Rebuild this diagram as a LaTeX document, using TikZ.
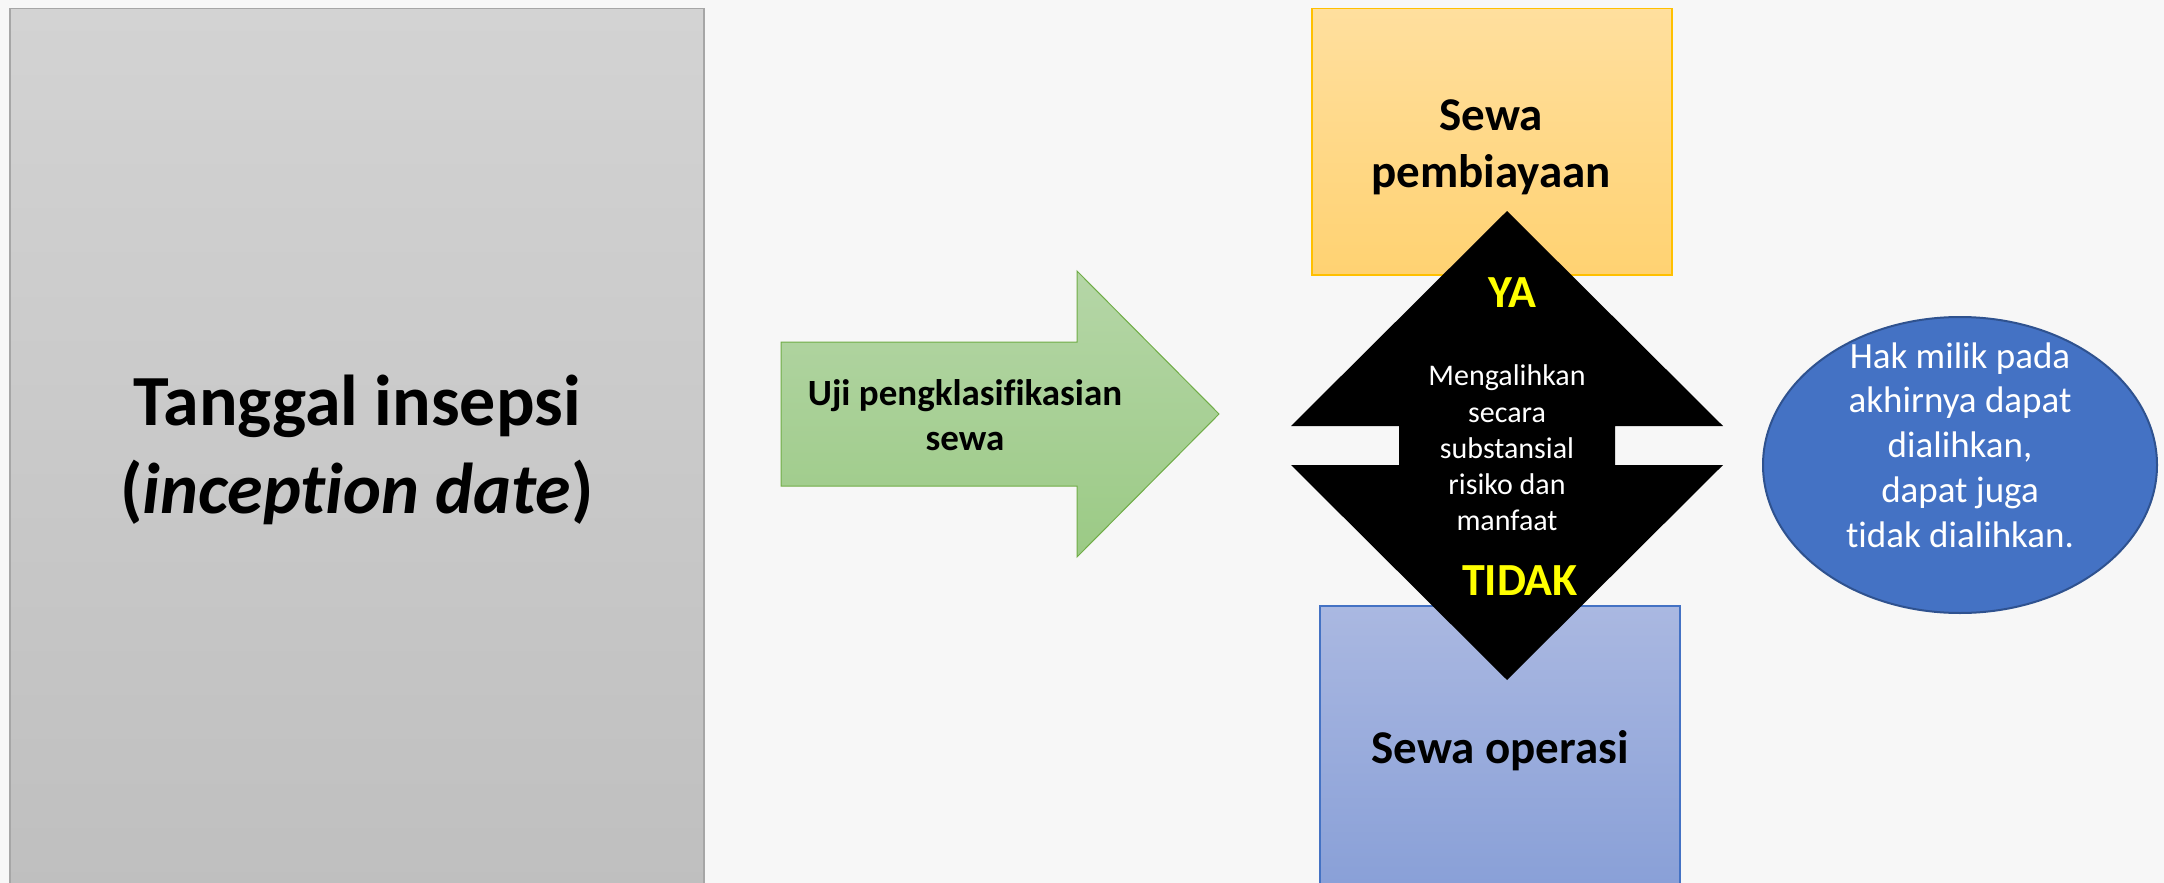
\documentclass[tikz,border=0pt]{standalone}
\usepackage{fontspec}
\setmainfont{Carlito}[Ligatures=NoCommon]
\definecolor{bgc}{HTML}{F7F7F7}
\definecolor{grayt}{HTML}{D3D3D3}
\definecolor{grayb}{HTML}{BFBFBF}
\definecolor{grayline}{HTML}{A6A6A6}
\definecolor{oranget}{HTML}{FFDF9E}
\definecolor{orangeb}{HTML}{FFD272}
\definecolor{orangeline}{HTML}{FFC000}
\definecolor{bluet}{HTML}{AAB8E1}
\definecolor{blueb}{HTML}{889FD7}
\definecolor{blueline}{HTML}{4472C4}
\definecolor{greent}{HTML}{B5D6A7}
\definecolor{greenb}{HTML}{9BCA85}
\definecolor{greenline}{HTML}{70AD47}
\definecolor{ellfill}{HTML}{4472C4}
\definecolor{ellline}{HTML}{2F528F}
\definecolor{yes}{HTML}{FFFF00}
\begin{document}
\begin{tikzpicture}[x=1pt,y=-1pt,
  lbl/.style={inner sep=0pt, align=center},
  boxshape/.style={inner sep=0pt, anchor=north west},
]
\useasboundingbox (0,0) rectangle (2164,883);
\clip (0,0) rectangle (2164,883);
\fill[bgc] (0,0) rectangle (2164,883);

% Left gray box
\node[boxshape, draw=grayline, line width=1.5pt, top color=grayt, bottom color=grayb,
      minimum width=694pt, minimum height=885pt] (incepbox) at (9,8) {};
\node[lbl, font=\fontsize{72}{88}\selectfont\bfseries] (incep) at (357,450)
  {Tanggal insepsi\\(\textit{inception date})};

% Green arrow
\coordinate (g1) at (781,342);
\coordinate (g2) at (1077,342);
\coordinate (g3) at (1077,271);
\coordinate (g4) at (1219,414);
\coordinate (g5) at (1077,557);
\coordinate (g6) at (1077,486);
\coordinate (g7) at (781,486);
\path[draw=greenline, line width=1pt, top color=greent, bottom color=greenb]
  (g1) -- (g2) -- (g3) -- (g4) -- (g5) -- (g6) -- (g7) -- cycle;
\node[lbl, font=\fontsize{37}{45}\selectfont\bfseries] (uji) at (965,415)
  {Uji pengklasifikasian\\sewa};

% Orange box
\node[boxshape, draw=orangeline, line width=1.5pt, top color=oranget, bottom color=orangeb,
      minimum width=360pt, minimum height=266pt] (finbox) at (1311,8) {};
% Blue box
\node[boxshape, draw=blueline, line width=1.5pt, top color=bluet, bottom color=blueb,
      minimum width=360pt, minimum height=290pt] (opbox) at (1319,605) {};

% Black up-down arrow
\coordinate (b1) at (1507,211);
\coordinate (b2) at (1723,426);
\coordinate (b3) at (1615,426);
\coordinate (b4) at (1615,465);
\coordinate (b5) at (1723,465);
\coordinate (b6) at (1507,680);
\coordinate (b7) at (1291,465);
\coordinate (b8) at (1399,465);
\coordinate (b9) at (1399,426);
\coordinate (b10) at (1291,426);
\fill[black] (b1) -- (b2) -- (b3) -- (b4) -- (b5) -- (b6) -- (b7) -- (b8) -- (b9) -- (b10) -- cycle;

\node[lbl, font=\fontsize{47}{57}\selectfont\bfseries] (fin) at (1491,147)
  {Sewa\\pembiayaan};
\node[lbl, anchor=base, font=\fontsize{47}{57}\selectfont\bfseries] (op) at (1500,763)
  {Sewa operasi};

\node[lbl, anchor=base, text=yes, font=\fontsize{46}{55}\selectfont\bfseries] (ya) at (1512,307) {YA};
\node[lbl, anchor=base, text=yes, font=\fontsize{46}{55}\selectfont\bfseries] (tidak) at (1520,595) {TIDAK};
\node[lbl, text=white, font=\fontsize{30}{36.3}\selectfont] (crit) at (1507,448)
  {Mengalihkan\\secara\\substansial\\risiko dan\\manfaat};

% Ellipse
\draw[ellline, line width=2pt, fill=ellfill] (1960,465) ellipse [x radius=197, y radius=148];
\node[lbl, text=white, font=\fontsize{37}{44.8}\selectfont] (hak) at (1960,445)
  {Hak milik pada\\akhirnya dapat\\dialihkan,\\dapat juga\\tidak dialihkan.};
\end{tikzpicture}
\end{document}
